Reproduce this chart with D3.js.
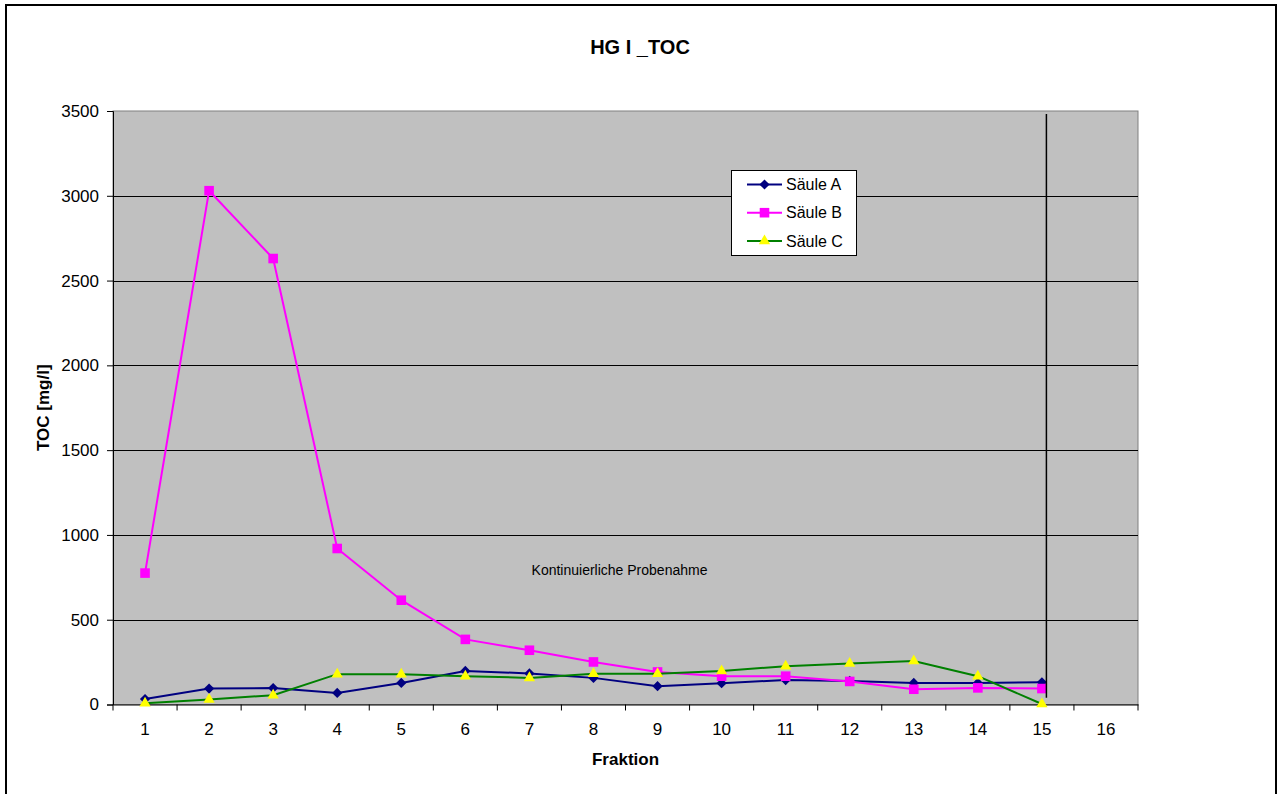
<!DOCTYPE html>
<html>
<head>
<meta charset="utf-8">
<script src="https://cdn.jsdelivr.net/npm/d3@7/dist/d3.min.js"></script>
<style>
  body { margin: 0; background: #fff; }
  svg text { font-family: "Liberation Sans", Arial, sans-serif; fill: #000; }
</style>
</head>
<body>
<svg id="chart" width="1277" height="794"></svg>
<script>
const fractions = ["1","2","3","4","5","6","7","8","9","10","11","12","13","14","15","16"];
const saeuleA = [32, 94, 97, 68, 127, 198, 183, 157, 108, 126, 144, 139, 127, 127, 131];
const saeuleB = [775, 3030, 2630, 920, 615, 384, 320, 251, 192, 167, 167, 136, 90, 98, 94];
const saeuleC = [8, 30, 55, 179, 179, 167, 157, 181, 181, 198, 226, 242, 256, 167, 3];
const yTicks = [0, 500, 1000, 1500, 2000, 2500, 3000, 3500];
const seriesNames = ["Säule A", "Säule B", "Säule C"];

(function () {
  const svg = d3.select("#chart");
  const width = 1277;
  const margin = { top: 111, right: 139, bottom: 89.5, left: 113 };
  const plotBottom = 794 - margin.bottom;
  const plotRight = width - margin.right;

  // outer chart frame
  svg.append("rect")
    .attr("x", 6).attr("y", 5)
    .attr("width", 1270).attr("height", 800)
    .attr("fill", "#fff").attr("stroke", "#000").attr("stroke-width", 2);

  const x = d3.scaleBand()
    .domain(fractions)
    .range([margin.left, plotRight])
    .padding(0);

  const y = d3.scaleLinear()
    .domain([0, 3500])
    .range([plotBottom, margin.top]);

  const cx = (i) => x(fractions[i]) + x.bandwidth() / 2;

  // plot area
  svg.append("rect")
    .attr("x", margin.left).attr("y", margin.top)
    .attr("width", plotRight - margin.left).attr("height", plotBottom - margin.top)
    .attr("fill", "#c0c0c0").attr("stroke", "#808080").attr("stroke-width", 1);

  // gridlines
  svg.append("g")
    .selectAll("line")
    .data(yTicks.filter(d => d > 0 && d < 3500))
    .enter()
    .append("line")
    .attr("x1", margin.left).attr("x2", plotRight)
    .attr("y1", d => Math.round(y(d)) + 0.5).attr("y2", d => Math.round(y(d)) + 0.5)
    .attr("stroke", "#000").attr("stroke-width", 1);

  // y axis
  const yAxis = svg.append("g")
    .attr("transform", `translate(${margin.left},0)`)
    .call(d3.axisLeft(y).tickValues(yTicks).tickSize(6).tickPadding(8).tickFormat(d3.format("d")));
  yAxis.selectAll("path.domain").attr("stroke", "#000");
  yAxis.selectAll(".tick line").attr("stroke", "#000");
  yAxis.selectAll(".tick text").style("font-size", "17px").attr("fill", "#000");

  // x axis: labels centered in band, ticks between categories
  const xAxis = svg.append("g")
    .attr("transform", `translate(0,${plotBottom})`)
    .call(d3.axisBottom(x).tickSize(0).tickPadding(18));
  xAxis.selectAll("path.domain").attr("stroke", "#000");
  xAxis.selectAll(".tick text").style("font-size", "17px").attr("fill", "#000");
  xAxis.selectAll("line.sep")
    .data(fractions.concat(["end"]))
    .enter()
    .append("line")
    .attr("class", "sep")
    .attr("x1", (d, i) => margin.left + i * x.bandwidth())
    .attr("x2", (d, i) => margin.left + i * x.bandwidth())
    .attr("y1", 0).attr("y2", 6)
    .attr("stroke", "#000");

  // annotation text
  svg.append("text")
    .attr("x", (margin.left + plotRight) / 2 - 6)
    .attr("y", y(790))
    .attr("dy", "0.35em")
    .attr("text-anchor", "middle")
    .style("font-size", "14px")
    .attr("fill", "#111")
    .text("Kontinuierliche Probenahme");

  // diamond = square turned 45deg, wider than d3's symbolDiamond
  const series = [
    { name: seriesNames[0], values: saeuleA, line: "#000080", fill: "#000080", shape: d3.symbolSquare, size: 52, rot: 45 },
    { name: seriesNames[1], values: saeuleB, line: "#ff00ff", fill: "#ff00ff", shape: d3.symbolSquare, size: 92, rot: 0 },
    { name: seriesNames[2], values: saeuleC, line: "#008000", fill: "#ffff00", shape: d3.symbolTriangle, size: 55, rot: 0 }
  ];

  const lineGen = d3.line()
    .x((d, i) => cx(i))
    .y(d => y(d));

  series.forEach(s => {
    svg.append("path")
      .datum(s.values)
      .attr("d", lineGen)
      .attr("fill", "none")
      .attr("stroke", s.line)
      .attr("stroke-width", 2);

    svg.append("g")
      .selectAll("path")
      .data(s.values)
      .enter()
      .append("path")
      .attr("d", d3.symbol().type(s.shape).size(s.size))
      .attr("transform", (d, i) => `translate(${cx(i)},${y(d)}) rotate(${s.rot})`)
      .attr("fill", s.fill);
  });

  // vertical marker line at end of fraction 15
  svg.append("line")
    .attr("x1", cx(14) + 4.5).attr("x2", cx(14) + 4.5)
    .attr("y1", margin.top + 3).attr("y2", y(40))
    .attr("stroke", "#000").attr("stroke-width", 1.5);

  // legend
  const legend = svg.append("g").attr("transform", "translate(731,170)");
  legend.append("rect")
    .attr("x", 0.5).attr("y", 0.5)
    .attr("width", 125).attr("height", 85)
    .attr("fill", "#fff").attr("stroke", "#000").attr("stroke-width", 1);

  series.forEach((s, i) => {
    const row = legend.append("g").attr("transform", `translate(0,${14.5 + i * 28.2})`);
    row.append("line")
      .attr("x1", 16).attr("x2", 51)
      .attr("y1", 0).attr("y2", 0)
      .attr("stroke", s.line).attr("stroke-width", 2);
    row.append("path")
      .attr("d", d3.symbol().type(s.shape).size(s.size))
      .attr("transform", `translate(33.5,0) rotate(${s.rot})`)
      .attr("fill", s.fill);
    row.append("text")
      .attr("x", 55).attr("y", 0).attr("dy", "0.35em")
      .style("font-size", "16px")
      .text(s.name);
  });

  // title
  svg.append("text")
    .attr("x", 640).attr("y", 47).attr("dy", "0.35em")
    .attr("text-anchor", "middle")
    .style("font-size", "20px").style("font-weight", "bold")
    .text("HG I _TOC");

  // axis titles
  svg.append("text")
    .attr("x", (margin.left + plotRight) / 2).attr("y", 759).attr("dy", "0.35em")
    .attr("text-anchor", "middle")
    .style("font-size", "17px").style("font-weight", "bold")
    .text("Fraktion");

  svg.append("text")
    .attr("transform", `translate(43,${(margin.top + plotBottom) / 2}) rotate(-90)`)
    .attr("dy", "0.35em")
    .attr("text-anchor", "middle")
    .style("font-size", "17px").style("font-weight", "bold")
    .text("TOC [mg/l]");
})();
</script>
</body>
</html>
